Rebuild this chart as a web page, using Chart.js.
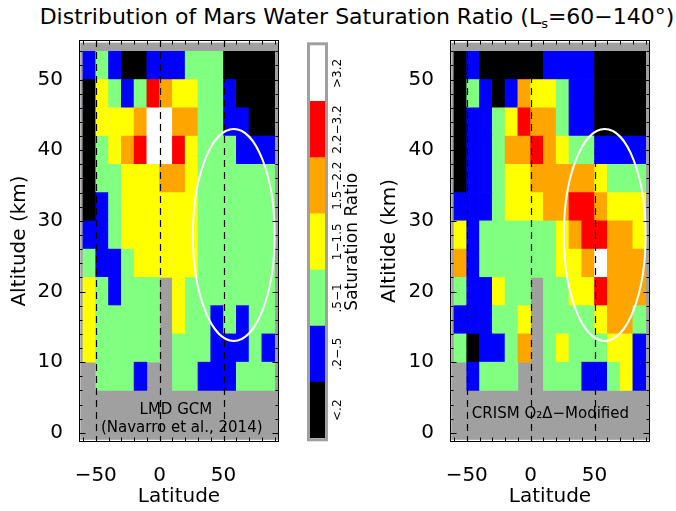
<!DOCTYPE html>
<html><head><meta charset="utf-8">
<script src="https://cdn.jsdelivr.net/npm/chart.js@4.4.0/dist/chart.umd.min.js"></script>
<style>
html,body{margin:0;padding:0;background:#fff;}
#wrap{position:relative;width:676px;height:511px;overflow:hidden;background:#fff;}
canvas{position:absolute;left:0;top:0;}
#title{position:absolute;left:19px;top:6px;width:676px;text-align:center;font-family:'DejaVu Sans',sans-serif;font-size:22px;line-height:22px;color:#000;white-space:nowrap;}
#title sub{font-size:13px;vertical-align:-4px;line-height:0;}
</style></head>
<body><div id="wrap">
<div id="title">Distribution of Mars Water Saturation Ratio (L<sub>s</sub>=60−140°)</div>
<canvas id="cL" width="676" height="511"></canvas>
<canvas id="cR" width="676" height="511"></canvas>
<canvas id="cB" width="676" height="511"></canvas>
</div>
<script>
// ---------------- DATA ----------------
// Latitude bin edges (deg), 10-degree bins
const latitudeEdges = [-60,-50,-40,-30,-20,-10,0,10,20,30,40,50,60,70,80,90];
// Altitude bin edges (km), top to bottom, 4-km bins
const altitudeEdges = [54,50,46,42,38,34,30,26,22,18,14,10,6];
// Saturation-ratio classes (colour bar)
const ratioClasses = ['<.2','.2−.5','.5−1','1−1.5','1.5−2.2','2.2−3.2','>3.2'];
const classColors = ['#000000','#0000ff','#80ff80','#ffff00','#ffa500','#ff0000','#ffffff'];
// Tick labels
const latitudeTicks = [-50,0,50];
const altitudeTicks = [0,10,20,30,40,50];
// Class index per cell (row = altitude bin from top, char = latitude bin), '.' = no data
const lmdGcmClasses = [
  '121001112220000',
  '032125433221000',
  '033346644221100',
  '023456653222111',
  '022333443222222',
  '012333333222222',
  '112333333222222',
  '211233333222222',
  '321222.32222222',
  '322222.32212122',
  '322222.22211121',
  '.2221..22111222'
];
const crismClasses = [
  '010000011110000',
  '021014332110000',
  '011235442110000',
  '011244543221111',
  '011233444443222',
  '111233344554333',
  '312222223455443',
  '412222223346444',
  '211322.22335444',
  '111223.22223442',
  '201124.23222331',
  '.1222..22211231'
];
// Highlighted region (ellipse): centre lat, centre alt, half-width lat, half-height alt
const regionEllipse = [58, 28, 32, 15];
const referenceLatitudes = [-50, 0, 50];

// ---------------- HELPERS ----------------
const FONT = "'DejaVu Sans', sans-serif";
const GRAY = '#a0a0a0';
function fmt(v){ return v < 0 ? '−' + Math.abs(v) : String(v); }

function cells(grid){
  const pts = [], cols = [];
  grid.forEach((row, r) => {
    const top = altitudeEdges[r], bot = altitudeEdges[r+1];
    [...row].forEach((ch, c) => {
      if (ch === '.') return;
      pts.push({x: (latitudeEdges[c] + latitudeEdges[c+1]) / 2, y: [bot, top]});
      cols.push(classColors[+ch]);
    });
  });
  return {pts, cols};
}

function drawFrame(chart){
  const {ctx, chartArea: a} = chart;
  const x = chart.scales.x, y = chart.scales.y;
  const L = Math.round(a.left) + 0.5, R = Math.round(a.right) - 0.5;
  const T = Math.round(a.top) + 0.5, B = Math.round(a.bottom) - 0.5;
  ctx.save();
  ctx.strokeStyle = '#000000'; ctx.lineWidth = 1; ctx.setLineDash([]);
  ctx.strokeRect(L, T, R - L, B - T);
  ctx.beginPath();
  for (let v = -60; v <= 90; v += 10){
    const px = Math.round(x.getPixelForValue(v)) + 0.5;
    ctx.moveTo(px, T); ctx.lineTo(px, T + 4);
    ctx.moveTo(px, B); ctx.lineTo(px, B - 4);
  }
  for (let v = 0; v <= 54; v += 2){
    const py = Math.round(y.getPixelForValue(v)) + 0.5;
    const len = v % 10 === 0 ? 6 : 3;
    ctx.moveTo(L, py); ctx.lineTo(L + len, py);
    ctx.moveTo(R, py); ctx.lineTo(R - len, py);
  }
  ctx.stroke();
  ctx.restore();
}

const panelPlugin = {
  id: 'panel',
  beforeDatasetsDraw(chart){
    const {ctx, chartArea: a} = chart;
    ctx.save();
    ctx.fillStyle = GRAY;
    ctx.fillRect(a.left + 1.3, a.top + 2.6, a.right - a.left - 2.3, a.bottom - a.top - 4.8);
    ctx.restore();
  },
  afterDatasetsDraw(chart, args, opts){
    const {ctx, chartArea: a, scales: {x, y}} = chart;
    ctx.save();
    ctx.strokeStyle = '#000'; ctx.lineWidth = 1.2; ctx.setLineDash([7,5]);
    referenceLatitudes.forEach(v => {
      const px = Math.round(x.getPixelForValue(v)) + 0.5;
      ctx.beginPath(); ctx.moveTo(px, a.top); ctx.lineTo(px, a.bottom); ctx.stroke();
    });
    ctx.setLineDash([]);
    const [cx, cy, hx, hy] = regionEllipse;
    const pcx = x.getPixelForValue(cx), pcy = y.getPixelForValue(cy);
    const rx = Math.abs(x.getPixelForValue(cx + hx) - pcx), ry = Math.abs(y.getPixelForValue(cy + hy) - pcy);
    ctx.strokeStyle = '#fff'; ctx.lineWidth = 2;
    ctx.beginPath(); ctx.ellipse(pcx, pcy, rx, ry, 0, 0, Math.PI * 2); ctx.stroke();
    ctx.fillStyle = '#000'; ctx.font = '15px ' + FONT; ctx.textAlign = 'center'; ctx.textBaseline = 'middle';
    opts.notes.forEach(n => ctx.fillText(n.t, x.getPixelForValue(n.x), y.getPixelForValue(n.y)));
    ctx.restore();
    drawFrame(chart);
  }
};

function panel(canvasId, grid, padLeft, padRight, yWidth, yTitle, notes){
  const c = cells(grid);
  return new Chart(document.getElementById(canvasId), {
    type: 'bar',
    data: {datasets: [{data: c.pts, backgroundColor: c.cols, borderWidth: 0, barPercentage: 1, categoryPercentage: 1}]},
    options: {
      responsive: false, animation: false, events: [],
      layout: {padding: {left: padLeft, right: padRight, top: 40, bottom: 0}},
      plugins: {legend: {display: false}, tooltip: {enabled: false}, panel: {notes}},
      scales: {
        x: {type: 'linear', min: -63.1, max: 93.4, offset: false,
            afterBuildTicks: s => { s.ticks = latitudeTicks.map(v => ({value: v})); },
            afterFit: s => { s.height = 69; },
            grid: {display: false, offset: false}, border: {display: false},
            ticks: {font: {family: FONT, size: 20}, color: '#000', padding: 14, maxRotation: 0, autoSkip: false, callback: v => fmt(v)},
            title: {display: true, text: 'Latitude', font: {family: FONT, size: 20}, color: '#000', padding: {top: 0, bottom: 2}}},
        y: {type: 'linear', min: -1.3, max: 55.6,
            afterBuildTicks: s => { s.ticks = altitudeTicks.map(v => ({value: v})); },
            afterFit: s => { s.width = yWidth; },
            grid: {display: false}, border: {display: false},
            ticks: {font: {family: FONT, size: 20}, color: '#000', padding: 8, autoSkip: false, callback: v => fmt(v)},
            title: {display: true, text: yTitle, font: {family: FONT, size: 20}, color: '#000', padding: {top: 8, bottom: 0}}}
      }
    },
    plugins: [panelPlugin]
  });
}

panel('cL', lmdGcmClasses, 0, 397, 79, 'Altitude (km)',
      [{t: 'LMD GCM', x: 12.7, y: 3.2}, {t: '(Navarro et al., 2014)', x: 17.3, y: 0.6}]);
panel('cR', crismClasses, 370, 26, 80, 'Altitide (km)',
      [{t: 'CRISM O₂Δ−Modified', x: 15.5, y: 2.7}]);

// ---------------- COLOUR BAR ----------------
const barPlugin = {
  id: 'cbar',
  afterDatasetsDraw(chart){
    const {ctx, chartArea: a, scales: {y}} = chart;
    ctx.save();
    ctx.strokeStyle = GRAY; ctx.lineWidth = 3;
    ctx.strokeRect(a.left - 1.5, a.top - 1.5, a.right - a.left + 3, a.bottom - a.top + 3);
    ctx.fillStyle = '#000'; ctx.textAlign = 'center'; ctx.textBaseline = 'middle';
    ctx.font = '12px ' + FONT;
    ratioClasses.forEach((t, i) => {
      ctx.save(); ctx.translate(338, y.getPixelForValue(i + 0.5)); ctx.rotate(-Math.PI / 2);
      ctx.fillText(t, 0, 0); ctx.restore();
    });
    ctx.font = '17px ' + FONT;
    ctx.save(); ctx.translate(353, y.getPixelForValue(3.5)); ctx.rotate(-Math.PI / 2);
    ctx.fillText('Saturation Ratio', 0, 0); ctx.restore();
    ctx.restore();
  }
};
new Chart(document.getElementById('cB'), {
  type: 'bar',
  data: {labels: ['ratio'], datasets: ratioClasses.map((t, i) => ({label: t, data: [1], backgroundColor: classColors[i], borderWidth: 0, barPercentage: 1, categoryPercentage: 1}))},
  options: {
    responsive: false, animation: false, events: [],
    layout: {padding: {left: 310, right: 351, top: 45.3, bottom: 72.7}},
    plugins: {legend: {display: false}, tooltip: {enabled: false}},
    scales: {x: {display: false, stacked: true}, y: {display: false, stacked: true, min: 0, max: 7}}
  },
  plugins: [barPlugin]
});
</script>
</body></html>
